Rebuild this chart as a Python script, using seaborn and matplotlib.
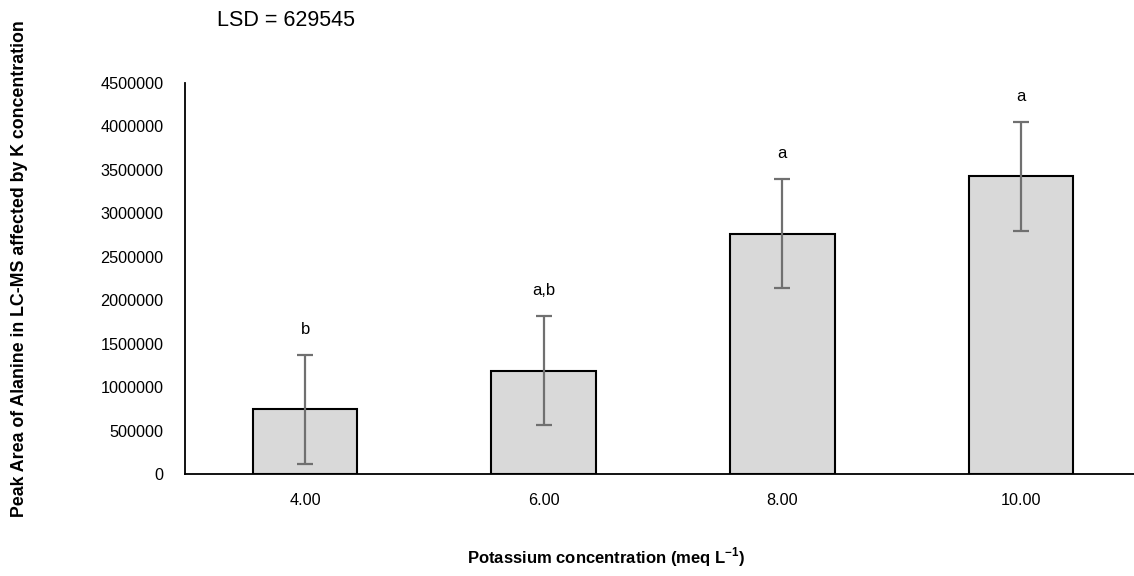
import matplotlib
matplotlib.use("Agg")
import matplotlib.pyplot as plt
import seaborn as sns
import pandas as pd

categories = ["4.00", "6.00", "8.00", "10.00"]
values = [745000, 1190000, 2765000, 3425000]
errors = [629545, 629545, 629545, 629545]
letters = ["b", "a,b", "a", "a"]
yticks = [0, 500000, 1000000, 1500000, 2000000, 2500000, 3000000, 3500000, 4000000, 4500000]

sns.set_theme(style="white")
plt.rcParams["font.family"] = ["Liberation Sans", "DejaVu Sans"]
plt.rcParams["mathtext.fontset"] = "custom"
plt.rcParams["mathtext.rm"] = "Liberation Sans"
plt.rcParams["mathtext.bf"] = "Liberation Sans:bold"
plt.rcParams["text.color"] = "black"
plt.rcParams["xtick.color"] = "black"
plt.rcParams["ytick.color"] = "black"
plt.rcParams["axes.labelcolor"] = "black"

df = pd.DataFrame({"K": categories, "Peak": values})

fig = plt.figure(figsize=(11.34, 5.76), dpi=100)
ax = fig.add_axes([185/1134, 1 - 474/576, (1134 - 185)/1134, (474 - 83)/576])

sns.barplot(data=df, x="K", y="Peak", order=categories, color="#d9d9d9",
            edgecolor="black", linewidth=1.5, width=0.438, errorbar=None,
            saturation=1, ax=ax)
ax.errorbar(range(len(categories)), values, yerr=errors, fmt="none",
            ecolor="#707070", elinewidth=1.6, capsize=6, capthick=1.6, zorder=5)

for i, (v, e, t) in enumerate(zip(values, errors, letters)):
    ax.annotate(t, (i, v + e), xytext=(0, 13), textcoords="offset points",
                ha="center", va="bottom", fontsize=12, color="black")

ax.set_ylim(0, 4500000)
ax.set_xlim(-0.503, 3.473)
ax.set_yticks(yticks)
ax.set_yticklabels([str(y) for y in yticks], fontsize=11.7)
ax.tick_params(axis="x", labelsize=11.7, length=0, pad=14, labelcolor="black")
ax.tick_params(axis="y", length=0, pad=15.5, labelcolor="black")
for s in ["top", "right"]:
    ax.spines[s].set_visible(False)
for s in ["left", "bottom"]:
    ax.spines[s].set_color("black")
    ax.spines[s].set_linewidth(1.3)

ax.set_xlabel("")
ax.set_ylabel("")
fig.text(20/1134, 1 - 269/576, "Peak Area of Alanine in LC-MS affected by K concentration",
         rotation=90, ha="center", va="center", fontsize=12.8, fontweight="bold", color="black")
fig.text(606/1134, 1 - 557/576, r"Potassium concentration (meq L$^{\mathbf{-1}}$)",
         ha="center", va="center", fontsize=12, fontweight="bold", color="black")
fig.text(217/1134, 1 - 20/576, "LSD = 629545", ha="left", va="center", fontsize=15.5, color="black")

fig.savefig("out.png", dpi=100)
